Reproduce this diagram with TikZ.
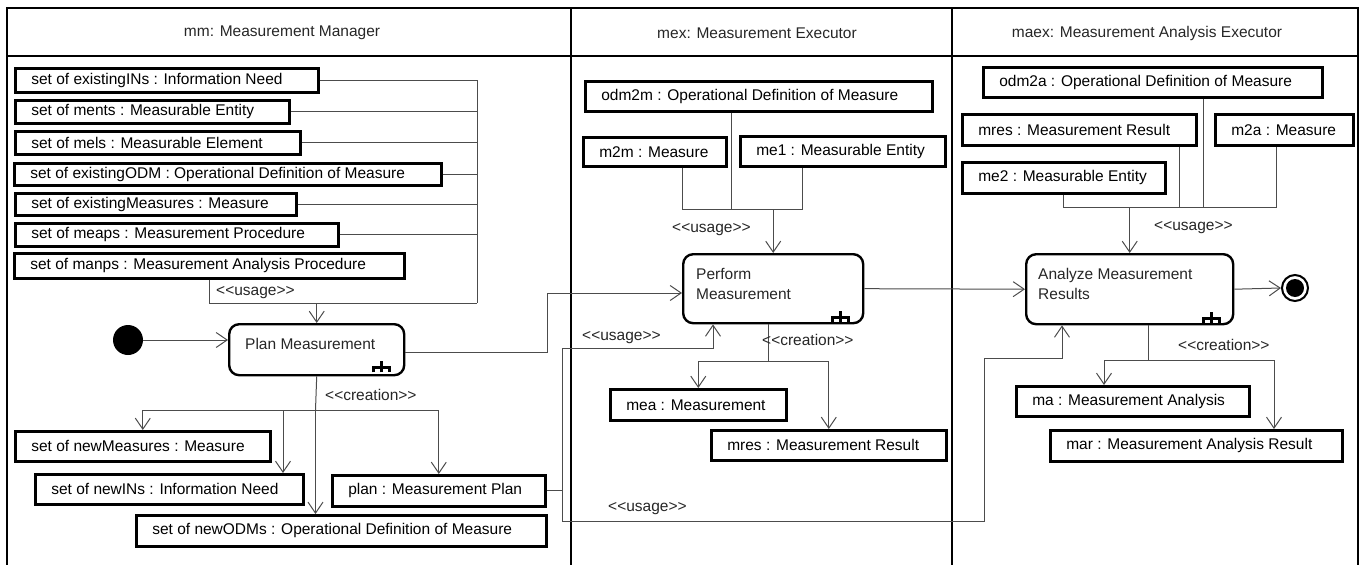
\documentclass[tikz,border=0pt]{standalone}
\usepackage{fontspec}
\setmainfont{Liberation Sans}[Ligatures=TeXOff]
\usetikzlibrary{arrows.meta}
\newcommand\lfont{\fontsize{15.5}{20}\selectfont}
\tikzset{
  conn/.style={draw=black!70, line width=1pt},
  arr/.style={conn, -{Straight Barb[length=11pt,width=15pt,line width=1pt]}},
  objbox/.style={draw=black, line width=2.6pt, fill=white, inner xsep=16pt, inner ysep=0pt, font=\lfont, anchor=north west},
  action/.style={draw=black, line width=2.4pt, rounded corners=10pt, anchor=north west, inner sep=0pt},
  lbl/.style={font=\lfont, inner sep=0pt, text=black!85},
  lane/.style={line width=2.4pt},
  rake/.pic={\draw[line width=2.4pt] (-8,0) -- (-8,-5) -- (8,-5) -- (8,0) (0,0) -- (0,-11);}
}
\newcommand\obj[6]{%
  \pgfmathsetmacro\objw{#4-#2-34}%
  \pgfmathsetmacro\objh{#5-#3-2}%
  \node[objbox, minimum height=\objh pt] (#1) at (#2+1,#3+1) {\makebox[\objw pt][l]{#6}};}
\newcommand\act[5]{%
  \pgfmathsetmacro\actw{#4-#2-2}%
  \pgfmathsetmacro\acth{#5-#3-2}%
  \node[action, minimum width=\actw pt, minimum height=\acth pt] (#1) at (#2+1,#3+1) {};}
\begin{document}
\begin{tikzpicture}[x=1pt,y=-1pt]
\useasboundingbox (0,0) rectangle (1361,565);
% frame and lanes
\draw[lane] (7,570) -- (7,8) -- (1358,8) -- (1358,570);
\draw[lane] (7,56) -- (1358,56);
\draw[lane] (571,8) -- (571,570);
\draw[lane] (952,8) -- (952,570);
\node[lbl] (h1) at (282,33) {mm: Measurement Manager};
\node[lbl] (h2) at (757,33) {mex: Measurement Executor};
\node[lbl] (h3) at (1147,33) {maex: Measurement Analysis Executor};

% ---------- left lane ----------
\obj{ins}{13}{66}{318}{92}{set of existingINs : Information Need}
\obj{ments}{13}{98}{289}{123}{set of ments : Measurable Entity}
\obj{mels}{13}{129}{300}{154}{set of mels : Measurable Element}
\obj{eodm}{12}{161}{441}{185}{set of existingODM : Operational Definition of Measure}
\obj{emeas}{13}{191}{296}{215}{set of existingMeasures : Measure}
\obj{meaps}{13}{221}{338}{246}{set of meaps : Measurement Procedure}
\obj{manps}{12}{251}{404}{278}{set of manps : Measurement Analysis Procedure}

\act{pm}{227}{322}{404}{375}
\node[lbl, anchor=west] (pmt) at ([xshift=17pt,yshift=6pt]pm.west) {Plan Measurement};
\pic at ([shift={(-24,-4)}]pm.south east) {rake};
\node[circle, fill=black, minimum size=30pt, inner sep=0pt] (init) at (128,340) {};

\obj{nmeas}{13}{429}{270}{461}{set of newMeasures : Measure}
\obj{nins}{33}{472}{303}{504}{set of newINs : Information Need}
\obj{nodm}{134}{513}{546}{546}{set of newODMs : Operational Definition of Measure}
\obj{planobj}{330}{473}{545}{506}{plan : Measurement Plan}

\coordinate (busL) at (477,303);
\draw[conn] (ins.east) -| (busL);
\foreach \n in {ments,mels,eodm,emeas,meaps} \draw[conn] (\n.east) -- (\n.east -| busL);
\draw[conn] (manps.south) |- (busL);
\draw[arr] (pm.north |- busL) -- (pm.north);
\node[lbl, anchor=west] (u1) at (216,293) {<<usage>>};
\draw[arr] (init.east) -- (init.east -| pm.west);

\coordinate (clj) at (315.5,410);
\draw[conn] (pm.south) -- (clj);
\draw[arr] (clj) -| (nmeas.north);
\draw[arr] (clj) -| (planobj.north);
\draw[arr] (283,410) -- (nins.north -| 283,0);
\draw[arr] (clj) -- (nodm.north -| clj);
\node[lbl, anchor=west] (c1) at (325,395) {<<creation>>};

% ---------- middle lane ----------
\obj{odmm}{583}{79}{932}{111}{odm2m : Operational Definition of Measure}
\obj{mm}{581}{135}{726}{166}{m2m : Measure}
\obj{meA}{738}{134}{945}{166}{me1 : Measurable Entity}
\act{pe}{681}{252}{863}{323}
\node[lbl, anchor=west, align=left] (pet) at ([xshift=14pt,yshift=5pt]pe.west) {Perform\\Measurement};
\pic at ([shift={(-24,-2)}]pe.south east) {rake};
\obj{mea}{608}{387}{786}{420}{mea : Measurement}
\obj{mresA}{709}{428}{946}{460}{mres : Measurement Result}

\draw[conn] (mm.south -| 682,0) -- (682,209) -- (802,209) -- (meA.south -| 802,0);
\draw[conn] (odmm.south -| 731,0) -- (731,209);
\draw[arr] (pe.north |- 0,209) -- (pe.north);
\node[lbl, anchor=west] (u2) at (672,230) {<<usage>>};

\coordinate (cmj) at (768,361);
\draw[conn] (pe.south -| cmj) -- (cmj);
\draw[arr] (cmj) -| (mea.north);
\draw[arr] (cmj) -| (mresA.north);
\node[lbl, anchor=west] (c2) at (762,340) {<<creation>>};

% plan -> perform
\draw[arr] (pm.east |- 0,352) -| (547,293) -- (pe.west |- 0,293);
% plan object usage
\coordinate (busM) at (562,0);
\draw[conn] (planobj.east) -- (planobj.east -| busM);
\draw[conn] (busM |- 0,348) -- (busM |- 0,521);
\draw[arr] (busM |- 0,348) -| (pe.south -| 713,0);
\node[lbl, anchor=west] (u3) at (582,338) {<<usage>>};
\node[lbl, anchor=west] (u4) at (608,509) {<<usage>>};

% ---------- right lane ----------
\obj{odma}{981}{65}{1322}{97}{odm2a : Operational Definition of Measure}
\obj{mresB}{960}{112}{1196}{145}{mres : Measurement Result}
\obj{ma2}{1213}{112}{1353}{145}{m2a : Measure}
\obj{meB}{960}{160}{1165}{193}{me2 : Measurable Entity}
\act{an}{1024}{252}{1233}{324}
\node[lbl, anchor=west, align=left] (ant) at ([xshift=13pt,yshift=5pt]an.west) {Analyze Measurement\\Results};
\pic at ([shift={(-23,-2)}]an.south east) {rake};
\node[circle, draw=black, line width=2pt, minimum size=26pt, inner sep=0pt] (fin) at (1295,288) {};
\node[circle, fill=black, minimum size=18pt, inner sep=0pt] (finin) at (fin.center) {};
\obj{maobj}{1014}{384}{1249}{416}{ma : Measurement Analysis}
\obj{mar}{1048}{428}{1342}{461}{mar : Measurement Analysis Result}

\draw[conn] (meB.south -| 1063,0) -- (1063,207) -- (1276,207) -- (ma2.south -| 1276,0);
\draw[conn] (mresB.south -| 1179,0) -- (1179,207);
\draw[conn] (odma.south -| 1203,0) -- (1203,207);
\draw[arr] (an.north |- 0,207) -- (an.north);
\node[lbl, anchor=west] (u5) at (1154,228) {<<usage>>};

\coordinate (caj) at (1148,360);
\draw[conn] (an.south -| caj) -- (caj);
\draw[arr] (caj) -| (maobj.north -| 1104,0);
\draw[arr] (caj) -| (mar.north -| 1274,0);
\node[lbl, anchor=west] (c3) at (1178,345) {<<creation>>};

\draw[arr] (pe.east) -- (an.west);
\draw[arr] (an.east) -- (fin.west);
\draw[arr] (busM |- 0,521) -| (984,358) -| (an.south -| 1062,0);
\end{tikzpicture}
\end{document}
